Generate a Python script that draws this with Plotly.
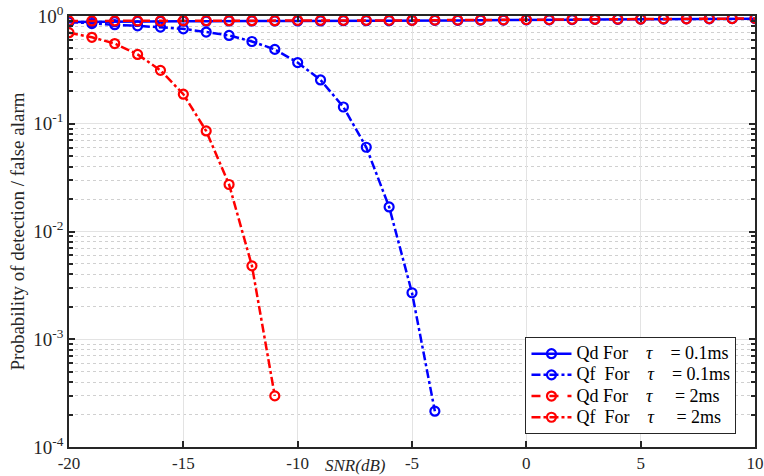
import plotly.graph_objects as go

snr_qd = list(range(-20, 11))
qd_01 = [0.88, 0.885, 0.885, 0.89, 0.89, 0.895, 0.895, 0.90, 0.90, 0.90, 0.90, 0.90, 0.905, 0.905,
         0.905, 0.91, 0.91, 0.91, 0.915, 0.915, 0.92, 0.92, 0.925, 0.93, 0.93, 0.935, 0.935, 0.94,
         0.94, 0.945, 0.945]
qd_2 = [0.90, 0.90, 0.90, 0.90, 0.90, 0.905, 0.905, 0.905, 0.905, 0.905, 0.91, 0.91, 0.91, 0.91,
        0.91, 0.91, 0.915, 0.915, 0.92, 0.92, 0.925, 0.925, 0.93, 0.93, 0.935, 0.935, 0.94, 0.94,
        0.945, 0.945, 0.95]

snr_qf_01 = list(range(-20, -3))
qf_01 = [0.88, 0.85, 0.83, 0.81, 0.79, 0.76, 0.71, 0.66, 0.58, 0.49, 0.37, 0.255, 0.143,
         0.0605, 0.0169, 0.0027, 0.000215]

snr_qf_2 = list(range(-20, -10))
qf_2 = [0.70, 0.634, 0.555, 0.44, 0.313, 0.188, 0.0857, 0.0273, 0.0048, 0.000298]

y_tickvals = [1e-4, 1e-3, 1e-2, 1e-1, 1]
y_ticktext = ["10<sup>-4</sup>", "10<sup>-3</sup>", "10<sup>-2</sup>", "10<sup>-1</sup>", "10<sup>0</sup>"]
x_tickvals = [-20, -15, -10, -5, 0, 5, 10]

NB = "\u00a0"
def leg(q, pad_q, pad_eq, val):
    return (f'<span style="font-size:18px">{q}{NB*pad_q}For{NB*4}<i>τ</i>'
            f'{NB*pad_eq}= {val}</span>')

names = [
    leg("Qd", 1, 4, "0.1ms"),
    leg("Qf", 2, 4, "0.1ms"),
    leg("Qd", 1, 5, "2ms"),
    leg("Qf", 2, 5, "2ms"),
]

BLUE = "#0000ff"
RED = "#ff0000"
marker_common = dict(symbol="circle-open", size=9)

fig = go.Figure()
fig.add_trace(go.Scatter(x=snr_qd, y=qd_01, mode="lines+markers", name=names[0],
                         line=dict(color=BLUE, width=2.5, dash="solid"),
                         marker=dict(color=BLUE, line=dict(width=2.2, color=BLUE), **marker_common)))
fig.add_trace(go.Scatter(x=snr_qf_01, y=qf_01, mode="lines+markers", name=names[1],
                         line=dict(color=BLUE, width=2.5, dash="dashdot"),
                         marker=dict(color=BLUE, line=dict(width=2.2, color=BLUE), **marker_common)))
fig.add_trace(go.Scatter(x=snr_qd, y=qd_2, mode="lines+markers", name=names[2],
                         line=dict(color=RED, width=2.5, dash="dash"),
                         marker=dict(color=RED, line=dict(width=2.2, color=RED), **marker_common)))
fig.add_trace(go.Scatter(x=snr_qf_2, y=qf_2, mode="lines+markers", name=names[3],
                         line=dict(color=RED, width=2.5, dash="dashdot"),
                         marker=dict(color=RED, line=dict(width=2.2, color=RED), **marker_common)))

serif = "Liberation Serif, Times New Roman, serif"

fig.update_layout(
    width=764, height=476,
    margin=dict(l=69, r=9, t=16, b=29, autoexpand=False),
    paper_bgcolor="white", plot_bgcolor="white",
    font=dict(family=serif, size=16, color="#262626"),
    showlegend=True,
    legend=dict(x=0.973, y=0.03, xanchor="right", yanchor="bottom",
                bgcolor="white", bordercolor="#262626", borderwidth=1,
                font=dict(family=serif, size=14, color="#000000"),
                tracegroupgap=0, itemwidth=40),
    xaxis=dict(range=[-20, 10], tickvals=x_tickvals, ticktext=[str(v) for v in x_tickvals],
               automargin=False,
               showgrid=True, gridcolor="#e3e3e3", gridwidth=1,
               showline=True, linecolor="#262626", linewidth=1.5, mirror="allticks",
               ticks="inside", ticklen=6, tickcolor="#262626", tickwidth=1.5,
               zeroline=False, tickfont=dict(size=17)),
    yaxis=dict(type="log", range=[-4, 0], tickvals=y_tickvals, ticktext=y_ticktext,
               automargin=False,
               showgrid=True, gridcolor="#e3e3e3", gridwidth=1,
               showline=True, linecolor="#262626", linewidth=1.5, mirror="allticks",
               ticks="inside", ticklen=6, tickcolor="#262626", tickwidth=1.5,
               zeroline=False, tickfont=dict(size=19),
               minor=dict(dtick="D1", ticks="inside", ticklen=4, tickcolor="#262626",
                          showgrid=True, gridcolor="#d0d0d0", griddash="dot", gridwidth=1),
               title=dict(text="Probability of detection / false alarm", standoff=4,
                          font=dict(size=19, color="#262626"))),
    annotations=[dict(text="<i>SNR(dB)</i>", x=-7.45, y=0, yshift=-7, xref="x", yref="paper",
                      xanchor="center", yanchor="top", showarrow=False,
                      font=dict(family=serif, size=17, color="#262626"))],
)

fig.write_html("out.html")
